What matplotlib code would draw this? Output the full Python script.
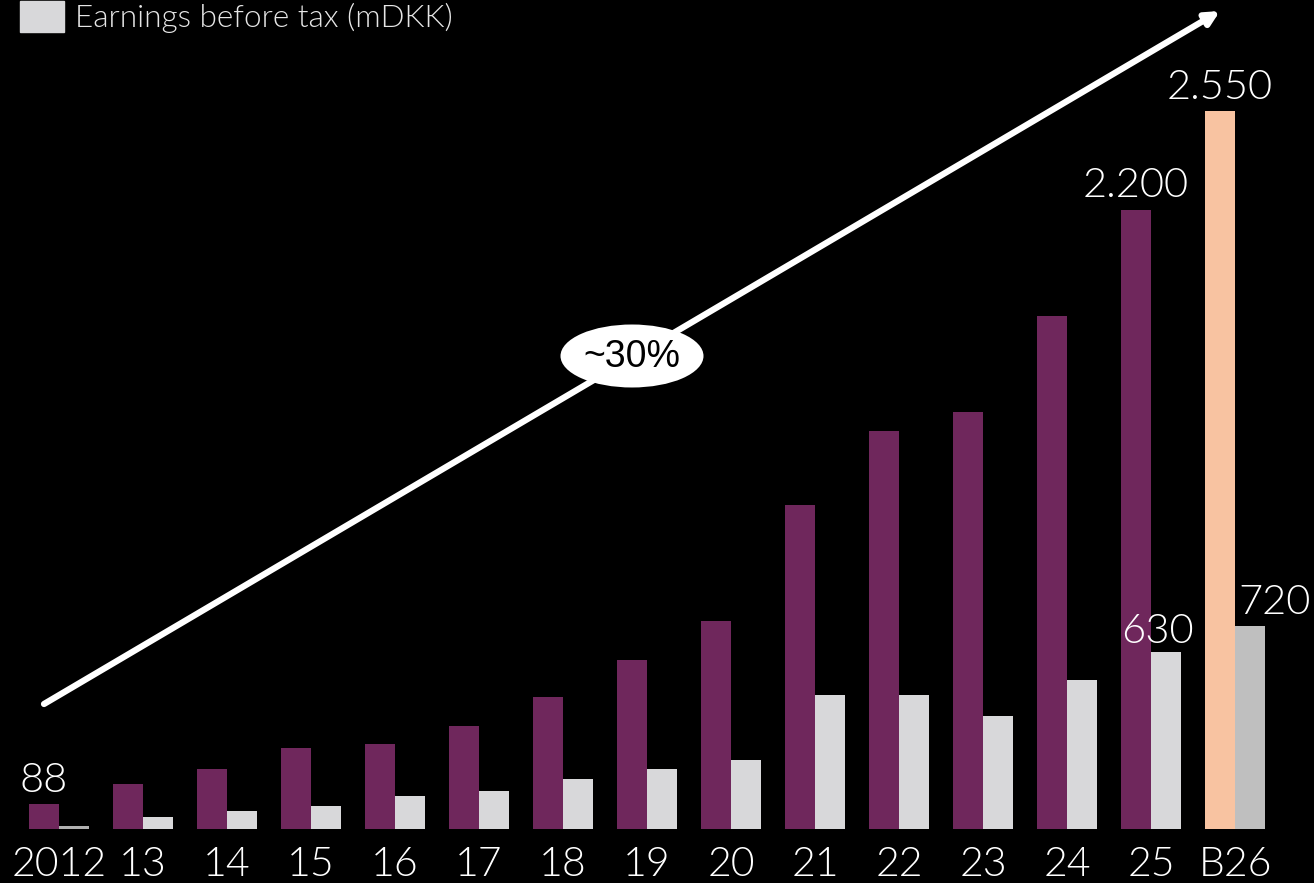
import matplotlib.pyplot as plt
from matplotlib.patches import Ellipse

years = ["2012", "13", "14", "15", "16", "17", "18", "19", "20", "21", "22", "23", "24", "25", "B26"]
revenue = [88, 160, 213, 288, 302, 366, 469, 600, 739, 1151, 1414, 1481, 1822, 2200, 2550]
ebt = [10, 43, 64, 82, 117, 135, 178, 213, 245, 476, 476, 401, 529, 630, 720]

purple = "#6f275c"
light = "#d8d8da"
peach = "#f8c3a1"
budget_grey = "#bfbfbf"

plt.rcParams['font.family'] = ['Lato', 'DejaVu Sans']
W = 300  # Lato Light

fig = plt.figure(figsize=(13.14, 8.83), dpi=100, facecolor="black")
ax = fig.add_axes([0, 54 / 883, 1, 1 - 54 / 883])
ax.set_facecolor("black")

x = list(range(len(years)))
w = 0.357
rev_colors = [purple] * (len(years) - 1) + [peach]
ebt_colors = [light] * (len(years) - 1) + [budget_grey]
ebt_colors[0] = "#b0b0b0"

ax.bar([i - w / 2 for i in x], revenue, width=w, color=rev_colors)
bars = ax.bar([i + w / 2 for i in x], ebt, width=w, color=ebt_colors)

ax.set_xlim(-0.702, 14.94)
ax.set_ylim(0, 829 / 0.2815)
for s in ax.spines.values():
    s.set_visible(False)
ax.set_yticks([])
ax.set_xticks(x)
ax.set_xticklabels(years, fontsize=29.5, color="white", fontweight=W)
ax.tick_params(axis="x", length=0, pad=12)

# value labels
lab = dict(fontsize=30, color="white", fontweight=W, ha="center", va="bottom")
ax.annotate("88", (0 - w / 2, revenue[0]), xytext=(0, 4), textcoords="offset points", **lab)
ax.annotate("2.200", (13 - w / 2, revenue[13]), xytext=(0, 4), textcoords="offset points", **lab)
ax.annotate("2.550", (14 - w / 2, revenue[14]), xytext=(0, 4), textcoords="offset points", **lab)
ax.annotate("630", (13 + w / 2, ebt[13]), xytext=(-6, 1), textcoords="offset points", **lab)
ax.annotate("720", (14 + w / 2, ebt[14]), xytext=(18, 4), textcoords="offset points", **lab)

# growth arrow
ax.annotate("", xy=(1220 / 1314, 1 - 11 / 883), xytext=(44 / 1314, 1 - 704 / 883),
            xycoords="figure fraction", textcoords="figure fraction",
            arrowprops=dict(arrowstyle="-|>,head_length=0.8,head_width=0.4",
                            color="white", lw=4.5, shrinkA=0, shrinkB=0))
fig.patches.append(Ellipse((632 / 1314, 1 - 356 / 883), 143 / 1314, 63 / 883,
                           transform=fig.transFigure, facecolor="white",
                           edgecolor="none", zorder=5))
fig.text(632 / 1314, 1 - 357 / 883, "~30%", fontsize=27, color="black",
         family="Liberation Sans", ha="center", va="center", zorder=6)

leg = fig.legend([bars], ["Earnings before tax (mDKK)"], loc="upper left",
                 bbox_to_anchor=(20 / 1314, 1 - 1 / 883), frameon=False, fontsize=22.7,
                 borderaxespad=0, borderpad=0,
                 handlelength=1.4, handleheight=1.15, handletextpad=0.35)
leg.legend_handles[0].set_color(light)
for t in leg.get_texts():
    t.set_color("#e6e6e6")
    t.set_fontweight(W)

fig.savefig("out.png", dpi=100, facecolor="black")
